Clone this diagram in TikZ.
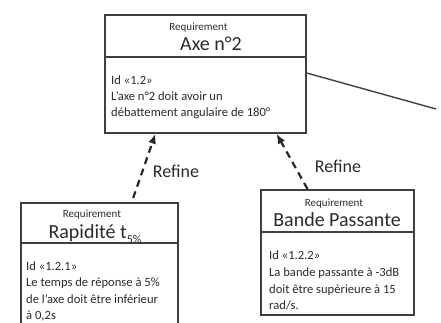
\documentclass[tikz,border=0pt]{standalone}
\usepackage{fontspec}
\setmainfont{Carlito}
\usetikzlibrary{arrows.meta,calc}
\definecolor{frame}{HTML}{404040}
\definecolor{txt}{HTML}{2A2A2A}
\begin{document}
\begin{tikzpicture}[x=1pt,y=-1pt,
 reqbox/.style={draw=frame,line width=1.7pt,rectangle,inner sep=0pt,anchor=north west},
 divider/.style={draw=frame,line width=1.7pt},
 small/.style={font=\fontsize{11}{13}\selectfont,text=txt,anchor=base,inner sep=0pt},
 title/.style={font=\fontsize{20}{24}\selectfont,text=txt,anchor=base,inner sep=0pt},
 body/.style={font=\fontsize{12.6}{15}\selectfont,text=txt,anchor=base west,inner sep=0pt},
 refine/.style={draw=black!85,line width=2.2pt,dash pattern=on 7pt off 5pt,-{Latex[length=10pt,width=8pt]}},
 lbl/.style={font=\fontsize{18}{20}\selectfont,text=txt,inner sep=0pt,anchor=base}]
\useasboundingbox (0,0) rectangle (441,322);

% boxes
\node[reqbox,minimum width=201pt,minimum height=118pt] (axe) at (104,14) {};
\node[reqbox,minimum width=157pt,minimum height=132pt] (rap) at (20,202) {};
\node[reqbox,minimum width=153pt,minimum height=125pt] (bp) at (260,189) {};

\draw[divider] ($(axe.north west)+(0,43)$) -- ($(axe.north east)+(0,43)$);
\draw[divider] ($(rap.north west)+(0,41)$) -- ($(rap.north east)+(0,41)$);
\draw[divider] ($(bp.north west)+(0,43)$) -- ($(bp.north east)+(0,43)$);

% texts: Axe n°2
\node[small] (axe-st) at (198.5,30) {Requirement};
\node[title] (axe-t) at (211,50) {Axe n°2};
\node[body] (axe-l1) at (111,84) {Id «1.2»};
\node[body] (axe-l2) at (111,100) {L’axe n°2 doit avoir un};
\node[body] (axe-l3) at (111,116) {débattement angulaire de 180°};

% texts: Rapidité
\node[small] (rap-st) at (92,217) {Requirement};
\node[title] (rap-t) at (95,238) {Rapidité t\raisebox{-0.25em}{\fontsize{12}{12}\selectfont 5\%}};
\node[body] (rap-l1) at (26,270) {Id «1.2.1»};
\node[body] (rap-l2) at (26,286.5) {Le temps de réponse à 5\%};
\node[body] (rap-l3) at (26,303) {de l’axe doit être inférieur};
\node[body] (rap-l4) at (26,319) {à 0,2s};

% texts: Bande Passante
\node[small] (bp-st) at (334,206) {Requirement};
\node[title] (bp-t) at (337,226) {Bande Passante};
\node[body] (bp-l1) at (269,259) {Id «1.2.2»};
\node[body] (bp-l2) at (269,276) {La bande passante à -3dB};
\node[body] (bp-l3) at (269,293) {doit être supérieure à 15};
\node[body] (bp-l4) at (269,309) {rad/s.};

% connector going off to the right
\coordinate (off) at (436,109);
\draw[frame,line width=1.4pt] ($(axe.north east)+(0,59)$) -- (off);

% refine arrows
\draw[refine] ($(rap.north west)!0.713!(rap.north east)+(0,-4)$) -- ($(axe.south west)!0.254!(axe.south east)$);
\draw[refine] ($(bp.north west)!0.307!(bp.north east)$) -- ($(axe.south west)!0.851!(axe.south east)$);
\node[lbl] (ref1) at (176,177) {Refine};
\node[lbl] (ref2) at (338,172) {Refine};
\end{tikzpicture}
\end{document}
